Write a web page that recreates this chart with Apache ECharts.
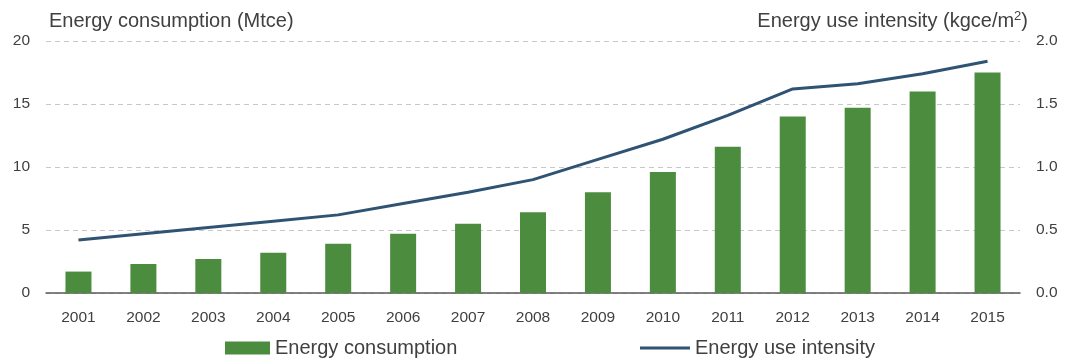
<!DOCTYPE html>
<html lang="en">
<head>
    <meta charset="UTF-8">
    <style>
        html, body { margin: 0; padding: 0; background: #fff; }
        #main { width: 1067px; height: 360px; }
    </style>
    <title>Energy consumption</title>
</head>
<body>
    <div id="main"></div>
    <script src="https://cdn.jsdelivr.net/npm/echarts@6/dist/echarts.min.js"></script>
    <script>
        var years = ['2001', '2002', '2003', '2004', '2005', '2006', '2007', '2008',
            '2009', '2010', '2011', '2012', '2013', '2014', '2015'];
        // Mtce
        var consumption = [1.7, 2.3, 2.7, 3.2, 3.9, 4.7, 5.5, 6.4, 8.0, 9.6, 11.6, 14.0, 14.7, 16.0, 17.5];
        // kgce/m2
        var intensity = [0.42, 0.47, 0.52, 0.57, 0.62, 0.71, 0.80, 0.90, 1.06, 1.22, 1.41, 1.62, 1.66, 1.74, 1.84];

        var textColor = '#404040';
        var fontFamily = '"Liberation Sans", Arial, sans-serif';

        var option = {
            backgroundColor: '#fff',
            animation: false,
            textStyle: { fontFamily: fontFamily, color: textColor },
            title: [{
                text: 'Energy consumption (Mtce)',
                left: 44,
                top: 6,
                textStyle: { fontSize: 20, fontWeight: 'normal', color: textColor, fontFamily: fontFamily }
            }, {
                text: 'Energy use intensity (kgce/m{sup|2})',
                right: 34,
                top: 5,
                textStyle: {
                    fontSize: 20, fontWeight: 'normal', color: textColor, fontFamily: fontFamily,
                    rich: {
                        sup: { fontSize: 13, verticalAlign: 'top', padding: [0, 0, 9, 0], color: textColor, fontFamily: fontFamily }
                    }
                }
            }],
            legend: [{
                data: ['Energy consumption'],
                left: 220,
                top: 333,
                icon: 'rect',
                itemWidth: 45,
                itemHeight: 13,
                itemGap: 8,
                textStyle: { fontSize: 20, color: textColor, fontFamily: fontFamily }
            }, {
                data: [{ name: 'Energy use intensity', icon: 'rect' }],
                left: 635,
                top: 333,
                itemWidth: 50,
                itemHeight: 3,
                textStyle: { fontSize: 20, color: textColor, fontFamily: fontFamily }
            }],
            grid: {
                left: 46,
                right: 47,
                top: 41,
                bottom: 67
            },
            xAxis: {
                type: 'category',
                data: years,
                axisTick: { show: false },
                axisLine: { lineStyle: { color: '#595959', width: 1.5 } },
                axisLabel: { fontSize: 15.5, color: textColor, margin: 17 }
            },
            yAxis: [{
                type: 'value',
                min: 0,
                max: 20,
                interval: 5,
                axisLine: { show: false },
                axisTick: { show: false },
                axisLabel: { fontSize: 15.5, color: textColor, margin: 16 },
                splitLine: { lineStyle: { color: '#c8c8c8', type: [5, 4] } }
            }, {
                type: 'value',
                min: 0,
                max: 2,
                interval: 0.5,
                axisLine: { show: false },
                axisTick: { show: false },
                axisLabel: {
                    fontSize: 15.5, color: textColor, margin: 16,
                    formatter: function (v) { return v.toFixed(1); }
                },
                splitLine: { show: false }
            }],
            series: [{
                name: 'Energy consumption',
                type: 'bar',
                yAxisIndex: 0,
                barWidth: 26,
                itemStyle: { color: '#4b8c3e' },
                data: consumption
            }, {
                name: 'Energy use intensity',
                type: 'line',
                yAxisIndex: 1,
                symbol: 'none',
                lineStyle: { color: '#2f5373', width: 3 },
                itemStyle: { color: '#2f5373' },
                data: intensity
            }]
        };

        var myChart = echarts.init(document.getElementById('main'));
        myChart.setOption(option);
    </script>
</body>
</html>
